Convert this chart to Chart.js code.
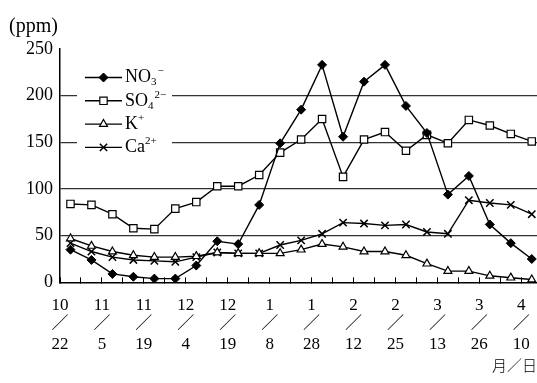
<!DOCTYPE html>
<html>
<head>
<meta charset="utf-8">
<script src="https://cdn.jsdelivr.net/npm/chart.js"></script>
<style>
  html, body { margin: 0; padding: 0; background: #fff; }
  canvas { display: block; }
</style>
</head>
<body>
<canvas id="chart" width="537" height="383"></canvas>
<script>
// one date label under every second sample (month/day)
const tickLabels = ['10/22', '11/5', '11/19', '12/4', '12/19', '1/8', '1/28', '2/12', '2/25', '3/13', '3/26', '4/10'];

// ion names, _x = subscript, ^x = superscript
const seriesNames = ['NO_3^−', 'SO_4^2−', 'K^+', 'Ca^2+'];

// concentrations (ppm), 23 samples each
const no3 = [35, 24, 9, 6, 4, 4, 18, 44, 41, 83, 149, 185, 233, 156, 215, 233, 189, 160, 94, 114, 62, 42, 25];
const so4 = [84, 83, 73, 58, 57, 79, 86, 103, 103, 115, 139, 153, 175, 113, 153, 161, 141, 158, 149, 174, 168, 159, 151];
const kIon = [47, 39, 33, 29, 27, 27, 28, 32, 31, 31, 31, 35, 41, 38, 33, 33, 29, 20, 12, 12, 7, 5, 3];
const caIon = [42, 33, 27, 24, 23, 22, 27, 32, 31, 31, 40, 45, 52, 64, 63, 61, 62, 54, 52, 88, 85, 83, 73];

const SERIF = "'Liberation Serif', 'Noto Sans CJK JP', serif";

// samples sit in the middle of each slot, labels on the slot edges
const pts = arr => arr.map((v, i) => ({ x: i + 0.5, y: v }));

function series(i, data, style, radius, fill, bw) {
  return {
    label: seriesNames[i],
    data: pts(data),
    borderColor: '#000',
    borderWidth: 1.4,
    tension: 0,
    pointStyle: style,
    pointRadius: radius,
    pointBackgroundColor: fill,
    pointBorderColor: '#000',
    pointBorderWidth: bw
  };
}

// draw "NO_3^−" style names with small sub/superscripts
function drawRich(ctx, text, x, y) {
  const parts = text.split(/(_[^_^]+|\^[^_^]+)/).filter(p => p);
  ctx.textBaseline = 'middle';
  ctx.textAlign = 'left';
  ctx.fillStyle = '#000';
  parts.forEach(p => {
    let dy = 0;
    if (p[0] === '_') { ctx.font = '11px ' + SERIF; dy = 5; p = p.slice(1); }
    else if (p[0] === '^') { ctx.font = '11px ' + SERIF; dy = -6; p = p.slice(1); }
    else { ctx.font = '18px ' + SERIF; }
    ctx.fillText(p, x, y + dy);
    x += ctx.measureText(p).width + (dy ? 1 : 0);
  });
}

// key inside the plot, on a white patch over the grid lines
const keyPlugin = {
  id: 'key',
  beforeDatasetsDraw(chart) {
    const { ctx, chartArea: a } = chart;
    ctx.save();
    ctx.fillStyle = '#fff';
    ctx.fillRect(a.left + 17, a.top + 15, 95, 95);
    ctx.restore();
  },
  afterDatasetsDraw(chart) {
    const { ctx, chartArea: a } = chart;
    chart.data.datasets.forEach((ds, i) => {
      const y = a.top + 28.5 + i * 23.3;
      const x0 = a.left + 25, x1 = a.left + 62;
      ctx.save();
      ctx.strokeStyle = '#000';
      ctx.lineWidth = ds.borderWidth;
      ctx.beginPath();
      ctx.moveTo(x0, y);
      ctx.lineTo(x1, y);
      ctx.stroke();
      ctx.fillStyle = ds.pointBackgroundColor;
      ctx.lineWidth = ds.pointBorderWidth;
      Chart.helpers.drawPoint(ctx, {
        pointStyle: ds.pointStyle, radius: ds.pointRadius, rotation: 0, borderWidth: ds.pointBorderWidth
      }, (x0 + x1) / 2, y);
      drawRich(ctx, ds.label, a.left + 65, y);
      ctx.restore();
    });
  }
};

new Chart(document.getElementById('chart'), {
  type: 'line',
  data: {
    datasets: [
      series(0, no3, 'rectRot', 4.5, '#000', 1),
      series(1, so4, 'rect', 5.2, '#fff', 1.2),
      series(2, kIon, 'triangle', 4.6, '#fff', 1.2),
      series(3, caIon, 'crossRot', 5.2, '#000', 1.5)
    ]
  },
  options: {
    responsive: false,
    animation: false,
    devicePixelRatio: 1,
    layout: { autoPadding: false, padding: { left: 9, right: 0, top: 3, bottom: 9 } },
    plugins: {
      legend: { display: false },
      tooltip: { enabled: false },
      title: {
        display: true,
        text: '(ppm)',
        align: 'start',
        color: '#000',
        font: { family: SERIF, size: 20, weight: 'normal' },
        padding: { top: 12, bottom: 10 }
      }
    },
    scales: {
      x: {
        type: 'linear',
        min: 0,
        max: 22.75,
        afterBuildTicks: s => {
          s.ticks = [];
          for (let b = 0; b <= 22; b++) s.ticks.push({ value: b });
        },
        afterFit: s => { s.paddingLeft = 0; s.paddingRight = 0; },
        ticks: {
          autoSkip: false,
          maxRotation: 0,
          padding: 18,
          color: '#000',
          font: { family: SERIF, size: 17, lineHeight: 1.15 },
          callback: v => {
            if (v % 2 !== 0) return '';
            const [m, d] = tickLabels[v / 2].split('/');
            return [m, '／', d];
          }
        },
        grid: { drawOnChartArea: false, drawTicks: true, tickLength: -5, color: '#000', lineWidth: 1 },
        border: { display: true, color: '#000', width: 1.5 },
        title: {
          display: true,
          text: '月／日',
          align: 'end',
          color: '#000',
          font: { family: "'Noto Sans CJK JP', sans-serif", size: 15, weight: 300 },
          padding: { top: -16, bottom: 0 }
        }
      },
      y: {
        min: 0,
        max: 250,
        afterFit: s => { s.width = 51; },
        ticks: {
          stepSize: 50,
          padding: 7,
          color: '#000',
          font: { family: SERIF, size: 18 }
        },
        grid: {
          drawTicks: false,
          lineWidth: 1.2,
          color: c => (c.tick && (c.tick.value === 0 || c.tick.value === 250)) ? 'rgba(0,0,0,0)' : '#333'
        },
        border: { display: true, color: '#000', width: 1.5 }
      }
    }
  },
  plugins: [keyPlugin]
});
</script>
</body>
</html>
